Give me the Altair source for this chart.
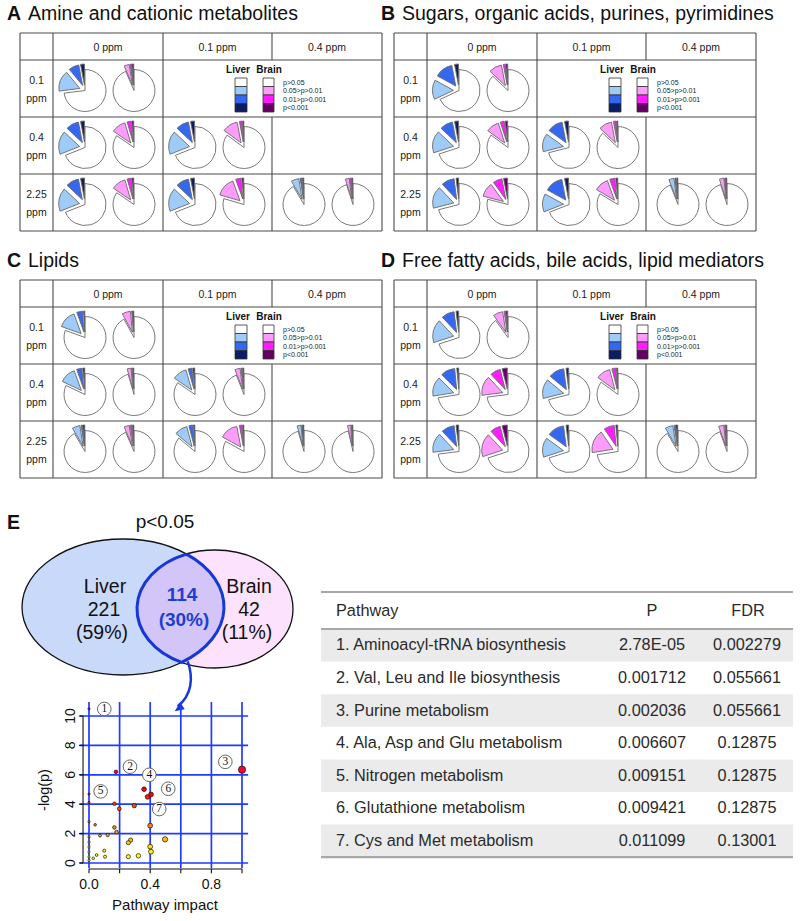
import math
import numpy as np
import pandas as pd
import altair as alt

# ------------------------------------------------------------------ data
panel_letters = ["A", "B", "C", "D"]
panel_titles = ["Amine and cationic metabolites",
                "Sugars, organic acids, purines, pyrimidines",
                "Lipids",
                "Free fatty acids, bile acids, lipid mediators"]
col_labels = ["0 ppm", "0.1 ppm", "0.4 ppm"]
row_labels = ["0.1", "0.4", "2.25"]
# comparisons: exposure row index vs reference column index
comp_rows = [0, 1, 1, 2, 2, 2]
comp_cols = [0, 0, 1, 0, 1, 2]
sig_levels = ["p>0.05", "0.05>p>0.01", "0.01>p>0.001", "p<0.001"]
liver_colors = ["#ffffff", "#9ecbf8", "#3468f0", "#0b1e63"]
brain_colors = ["#ffffff", "#fd9cfd", "#ff1cff", "#640064"]

# fraction of metabolites per comparison: [p<0.001, 0.01>p>0.001, 0.05>p>0.01]
liver_A = [[0.03, 0.08, 0.16], [0.03, 0.10, 0.18], [0.03, 0.10, 0.18],
           [0.03, 0.10, 0.18], [0.03, 0.10, 0.18], [0.01, 0.015, 0.06]]
brain_A = [[0.015, 0.01, 0.04], [0.015, 0.03, 0.11], [0.01, 0.02, 0.12],
           [0.015, 0.03, 0.11], [0.015, 0.04, 0.15], [0.01, 0.01, 0.03]]
liver_B = [[0.03, 0.14, 0.15], [0.03, 0.10, 0.17], [0.03, 0.12, 0.14],
           [0.02, 0.10, 0.17], [0.03, 0.14, 0.14], [0.01, 0.01, 0.04]]
brain_B = [[0.015, 0.015, 0.10], [0.02, 0.03, 0.10], [0.01, 0.02, 0.10],
           [0.03, 0.07, 0.11], [0.015, 0.04, 0.11], [0.01, 0.005, 0.035]]
liver_C = [[0.01, 0.045, 0.14], [0.015, 0.04, 0.125], [0.015, 0.03, 0.11],
           [0.015, 0.01, 0.06], [0.01, 0.03, 0.10], [0.01, 0.005, 0.03]]
brain_C = [[0.01, 0.005, 0.065], [0.01, 0.005, 0.03], [0.01, 0.01, 0.04],
           [0.01, 0.015, 0.04], [0.01, 0.02, 0.14], [0.008, 0.003, 0.025]]
liver_D = [[0.02, 0.10, 0.18], [0.015, 0.11, 0.15], [0.02, 0.12, 0.15],
           [0.02, 0.10, 0.15], [0.02, 0.13, 0.15], [0.015, 0.01, 0.06]]
brain_D = [[0.015, 0.01, 0.075], [0.04, 0.08, 0.15], [0.01, 0.03, 0.11],
           [0.04, 0.08, 0.18], [0.015, 0.08, 0.18], [0.01, 0.005, 0.04]]

# Venn
venn_title = "p<0.05"
venn_names = ["Liver", "Brain"]
venn_only = ["221", "42"]
venn_only_pct = ["(59%)", "(11%)"]
venn_shared = "114"
venn_shared_pct = "(30%)"

# pathway scatter: impact, -log(p)
path_impact = [0.0, 0.176, 1.0, 0.36, 0.0, 0.405, 0.383, 0.0, 0.166, 0.198, 0.296,
               0.0, 0.04, 0.40, 0.166, 0.18, 0.072, 0.122, 0.497, 0.272, 0.257,
               0.40, 0.405, 0.10, 0.105, 0.257, 0.323, 0.05, 0.028,
               0.0, 0.0, 0.0, 0.0, 0.0, 0.0]
path_nlogp = [10.49, 6.2, 6.35, 5.02, 4.69, 4.66, 4.50, 4.12, 4.03, 3.69, 3.9,
              2.81, 2.6, 2.54, 2.42, 2.1, 1.86, 1.9, 1.61, 1.56, 1.38,
              1.11, 0.77, 0.84, 0.43, 0.43, 0.49, 0.54, 0.32,
              1.77, 1.43, 1.09, 0.75, 0.41, 0.18]
label_num = ["1", "2", "3", "4", "5", "6", "7"]
label_x = [0.10, 0.268, 0.891, 0.394, 0.076, 0.518, 0.459]
label_y = [10.48, 6.55, 6.88, 6.0, 4.87, 5.05, 3.67]
x_ticks = [0.0, 0.2, 0.4, 0.6, 0.8, 1.0]
x_tick_labels = ["0.0", "0.4", "0.8"]
y_ticks = [0, 2, 4, 6, 8, 10]

# pathway table
tbl_header = ["Pathway", "P", "FDR"]
tbl_pathway = ["1. Aminoacyl-tRNA biosynthesis", "2. Val, Leu and Ile biosynthesis",
               "3. Purine metabolism", "4. Ala, Asp and Glu metabolism",
               "5. Nitrogen metabolism", "6. Glutathione metabolism",
               "7. Cys and Met metabolism"]
tbl_p = ["2.78E-05", "0.001712", "0.002036", "0.006607", "0.009151", "0.009421", "0.011099"]
tbl_fdr = ["0.002279", "0.055661", "0.055661", "0.12875", "0.12875", "0.12875", "0.13001"]

# ------------------------------------------------------------------ layout
W, H = 800, 921
FONT = "Liberation Sans"
panel_x = [20, 394, 20, 394]
panel_y = [33, 33, 280, 280]
col_edges = [0, 33, 143, 252, 362]
row_edges = [0, 27, 84, 141, 198]
LIVER_DX, BRAIN_DX, PIE_DY, PIE_R, EXPLODE = 32, 81, 2, 21, 5.5

SX = alt.Scale(domain=[0, W], range=[0, W], nice=False, zero=False)
SY = alt.Scale(domain=[0, H], range=[0, H], nice=False, zero=False)


def X(f):
    return alt.X(f, type="quantitative", scale=SX, axis=None)


def Y(f):
    return alt.Y(f, type="quantitative", scale=SY, axis=None)


def text_layer(df, **kw):
    props = dict(font=FONT, baseline="middle", color="#111111")
    props.update(kw)
    return alt.Chart(df).mark_text(**props).encode(x=X("x"), y=Y("y"), text="t:N")


def rules(df, **kw):
    return alt.Chart(df).mark_rule(**kw).encode(x=X("x"), y=Y("y"), x2="x2", y2="y2")


# ---------------- panels A-D ----------------
pie_recs, line_recs = [], []
letters, titles, heads, rlabs = [], [], [], []
leg_head, leg_box, leg_lab = [], [], []
panels = [(liver_A, brain_A), (liver_B, brain_B), (liver_C, brain_C), (liver_D, brain_D)]
for p, (lv, br) in enumerate(panels):
    x0, y0 = panel_x[p], panel_y[p]
    letters.append(dict(x=x0 - 13, y=y0 - 19, t=panel_letters[p]))
    titles.append(dict(x=x0 + 8, y=y0 - 19, t=panel_titles[p]))
    # grid lines
    for ry in row_edges:
        line_recs.append(dict(x=x0, x2=x0 + col_edges[-1], y=y0 + ry, y2=y0 + ry))
    for ci in (0, 1, 2, 4):
        line_recs.append(dict(x=x0 + col_edges[ci], x2=x0 + col_edges[ci],
                              y=y0, y2=y0 + row_edges[-1]))
    line_recs.append(dict(x=x0 + col_edges[3], x2=x0 + col_edges[3], y=y0, y2=y0 + row_edges[1]))
    line_recs.append(dict(x=x0 + col_edges[3], x2=x0 + col_edges[3], y=y0 + row_edges[2], y2=y0 + row_edges[-1]))
    for c, lab in enumerate(col_labels):
        heads.append(dict(x=x0 + (col_edges[c + 1] + col_edges[c + 2]) / 2,
                          y=y0 + row_edges[1] / 2 + 1, t=lab))
    for r, lab in enumerate(row_labels):
        cyr = y0 + (row_edges[r + 1] + row_edges[r + 2]) / 2
        rlabs.append(dict(x=x0 + col_edges[1] / 2, y=cyr - 8, t=lab))
        rlabs.append(dict(x=x0 + col_edges[1] / 2, y=cyr + 10, t="ppm"))
    # legend
    leg_head.append(dict(x=x0 + 218, y=y0 + 37, t="Liver"))
    leg_head.append(dict(x=x0 + 249, y=y0 + 37, t="Brain"))
    for i, lvl in enumerate(sig_levels):
        ty = y0 + 45 + 8.5 * i
        leg_box.append(dict(x=x0 + 215, x2=x0 + 227, y=ty, y2=ty + 8.5, col=liver_colors[i]))
        leg_box.append(dict(x=x0 + 243, x2=x0 + 254, y=ty, y2=ty + 8.5, col=brain_colors[i]))
        leg_lab.append(dict(x=x0 + 263, y=ty + 4.6, t=lvl))
    # pies
    for k in range(len(comp_rows)):
        r, c = comp_rows[k], comp_cols[k]
        left = x0 + col_edges[c + 1]
        cy = y0 + (row_edges[r + 1] + row_edges[r + 2]) / 2 + PIE_DY
        for fr, pal, off in ((lv[k], liver_colors, LIVER_DX), (br[k], brain_colors, BRAIN_DX)):
            cx = left + off
            tot = sum(fr)
            pie_recs.append(dict(x=cx, y=cy, t0=0.0, t1=2 * math.pi * (1 - tot), col=pal[0]))
            cum = 0.0
            for j, f in enumerate(fr):
                a0, a1 = 2 * math.pi * cum, 2 * math.pi * (cum + f)
                cum += f
                m = (a0 + a1) / 2
                pie_recs.append(dict(x=cx - EXPLODE * math.sin(m), y=cy - EXPLODE * math.cos(m),
                                     t0=2 * math.pi - a1, t1=2 * math.pi - a0, col=pal[3 - j]))

pies = alt.Chart(pd.DataFrame(pie_recs)).mark_arc(
    outerRadius=PIE_R, stroke="#6a6a6a", strokeWidth=0.9).encode(
    x=X("x"), y=Y("y"),
    theta=alt.Theta("t0:Q", scale=None, stack=None), theta2="t1:Q",
    color=alt.Color("col:N", scale=None))

grid_lines = rules(pd.DataFrame(line_recs), color="#4a4a4a", strokeWidth=1.1)
legend_boxes = alt.Chart(pd.DataFrame(leg_box)).mark_rect(stroke="#333333", strokeWidth=0.8).encode(
    x=X("x"), x2="x2", y=Y("y"), y2="y2", color=alt.Color("col:N", scale=None))

# ---------------- panel E: Venn ----------------
LV_CX, LV_CY, LV_RX, LV_RY = 123, 607, 101, 68
BR_CX, BR_CY, BR_RX, BR_RY = 215, 609, 78, 59
K = 0.5523


def ellipse_path(rx, ry):
    return (f"M {-rx} 0 C {-rx} {-K*ry:.2f} {-K*rx:.2f} {-ry} 0 {-ry} "
            f"C {K*rx:.2f} {-ry} {rx} {-K*ry:.2f} {rx} 0 "
            f"C {rx} {K*ry:.2f} {K*rx:.2f} {ry} 0 {ry} "
            f"C {-K*rx:.2f} {ry} {-rx} {K*ry:.2f} {-rx} 0 Z")


tt = np.linspace(0, 2 * np.pi, 20001)
bx = BR_CX + BR_RX * np.cos(tt)
by = BR_CY + BR_RY * np.sin(tt)
ff = ((bx - LV_CX) / LV_RX) ** 2 + ((by - LV_CY) / LV_RY) ** 2 - 1
idx = np.where(np.sign(ff[:-1]) != np.sign(ff[1:]))[0]
pts = sorted([(float(by[i]), float(bx[i])) for i in idx])
(p1y, p1x), (p2y, p2x) = pts[0], pts[-1]
lens_path = (f"M 0 0 A {BR_RX} {BR_RY} 0 0 0 {p2x-p1x:.2f} {p2y-p1y:.2f} "
             f"A {LV_RX} {LV_RY} 0 0 0 0 0")

liver_ell = alt.Chart(pd.DataFrame([dict(x=LV_CX, y=LV_CY)])).mark_point(
    shape=ellipse_path(LV_RX, LV_RY), size=4, filled=True, color="#c9d9fa",
    stroke="#111111", strokeWidth=1.3, opacity=1).encode(x=X("x"), y=Y("y"))
brain_ell = alt.Chart(pd.DataFrame([dict(x=BR_CX, y=BR_CY)])).mark_point(
    shape=ellipse_path(BR_RX, BR_RY), size=4, filled=True, color="#f78bf7",
    fillOpacity=0.25, stroke="#111111", strokeOpacity=1, strokeWidth=1.3, opacity=1).encode(
    x=X("x"), y=Y("y"))
lens = alt.Chart(pd.DataFrame([dict(x=p1x, y=p1y)])).mark_point(
    shape=lens_path, size=4, filled=False, stroke="#1538d6", strokeWidth=3, opacity=1).encode(
    x=X("x"), y=Y("y"))
arrow = alt.Chart(pd.DataFrame([dict(x=p2x + 6, y=p2y - 1)])).mark_point(
    shape="M 0 0 C 6 17 4 34 -10 45", size=4, filled=False, stroke="#1538d6",
    strokeWidth=2.5, opacity=1).encode(x=X("x"), y=Y("y"))
arrow_head = alt.Chart(pd.DataFrame([dict(x=p2x - 7, y=p2y + 49)])).mark_point(
    shape="M 0 0 L 10 -2 L 5.5 -9 Z", size=4, filled=True, color="#1538d6",
    strokeWidth=0, opacity=1).encode(x=X("x"), y=Y("y"))

venn_txt = text_layer(pd.DataFrame([
    dict(x=105, y=587, t=venn_names[0]), dict(x=104, y=610, t=venn_only[0]),
    dict(x=102, y=633, t=venn_only_pct[0]),
    dict(x=249, y=587, t=venn_names[1]), dict(x=249, y=610, t=venn_only[1]),
    dict(x=247, y=633, t=venn_only_pct[1])]), fontSize=19.5, align="center")
venn_mid = text_layer(pd.DataFrame([dict(x=182, y=595, t=venn_shared),
                                    dict(x=184, y=620, t=venn_shared_pct)]),
                      fontSize=19, fontWeight="bold", align="center", color="#1d3fd0")

# ---------------- panel E: table ----------------
TB_L, TB_R, TB_TOP, TB_HEAD, ROW_H = 321, 793, 592, 629, 32.6
shade = pd.DataFrame([dict(x=TB_L, x2=TB_R, y=TB_HEAD + ROW_H * i, y2=TB_HEAD + ROW_H * (i + 1))
                      for i in range(len(tbl_pathway)) if i % 2 == 0])
tbl_shade = alt.Chart(shade).mark_rect(color="#ebebeb").encode(x=X("x"), x2="x2", y=Y("y"), y2="y2")
tbl_lines = rules(pd.DataFrame([
    dict(x=TB_L, x2=TB_R, y=TB_TOP, y2=TB_TOP),
    dict(x=TB_L, x2=TB_R, y=TB_HEAD, y2=TB_HEAD),
    dict(x=TB_L, x2=TB_R, y=TB_HEAD + ROW_H * len(tbl_pathway), y2=TB_HEAD + ROW_H * len(tbl_pathway))]),
    color="#a8a8a8", strokeWidth=2.2)
rows_y = [TB_HEAD + ROW_H * (i + 0.5) for i in range(len(tbl_pathway))]
tbl_left = text_layer(pd.DataFrame(
    [dict(x=336, y=611, t=tbl_header[0])] +
    [dict(x=336, y=rows_y[i], t=tbl_pathway[i]) for i in range(len(tbl_pathway))]),
    fontSize=16.3, align="left", color="#2a2a2a")
tbl_num = text_layer(pd.DataFrame(
    [dict(x=652, y=611, t=tbl_header[1]), dict(x=748, y=611, t=tbl_header[2])] +
    [dict(x=652, y=rows_y[i], t=tbl_p[i]) for i in range(len(tbl_p))] +
    [dict(x=747, y=rows_y[i], t=tbl_fdr[i]) for i in range(len(tbl_fdr))]),
    fontSize=16.3, align="center", color="#2a2a2a")

# ---------------- text of panels ----------------
letters.append(dict(x=7, y=523, t="E"))
t_letters = text_layer(pd.DataFrame(letters), fontSize=19.5, fontWeight="bold", align="left")
t_titles = text_layer(pd.DataFrame(titles), fontSize=19.5, align="left")
t_heads = text_layer(pd.DataFrame(heads), fontSize=10.5, align="center", color="#222222")
t_rlabs = text_layer(pd.DataFrame(rlabs), fontSize=10.5, align="center", color="#222222")
t_leghead = text_layer(pd.DataFrame(leg_head), fontSize=10, fontWeight="bold", align="center")
t_leglab = text_layer(pd.DataFrame(leg_lab), fontSize=7, align="left", color="#222222")
t_venn_title = text_layer(pd.DataFrame([dict(x=165, y=522, t=venn_title)]), fontSize=19, align="center")
t_axis_titles = alt.layer(
    text_layer(pd.DataFrame([dict(x=165, y=905, t="Pathway impact")]), fontSize=15, align="center"),
    text_layer(pd.DataFrame([dict(x=45, y=790, t="-log(p)")]), fontSize=14.5, align="center", angle=270),
)

canvas = alt.layer(
    grid_lines, pies, legend_boxes, t_letters, t_titles, t_heads, t_rlabs, t_leghead, t_leglab,
    liver_ell, brain_ell, lens, arrow, arrow_head, venn_txt, venn_mid, t_venn_title,
    tbl_shade, tbl_lines, tbl_left, tbl_num, t_axis_titles)

# ---------------- scatter (own scales) ----------------
SX2 = alt.Scale(domain=[0, 1], range=[89, 242], nice=False, zero=False)
SY2 = alt.Scale(domain=[0, 10], range=[863, 716], nice=False, zero=False)


def X2s(f):
    return alt.X(f, type="quantitative", scale=SX2, axis=None)


def Y2s(f):
    return alt.Y(f, type="quantitative", scale=SY2, axis=None)


def srules(df, **kw):
    return alt.Chart(df).mark_rule(**kw).encode(x=X2s("x"), y=Y2s("y"), x2="x2", y2="y2")


def stext(df, **kw):
    props = dict(font=FONT, baseline="middle", color="#111111")
    props.update(kw)
    return alt.Chart(df).mark_text(**props).encode(x=X2s("x"), y=Y2s("y"), text="t:N")


blue_grid = srules(pd.DataFrame(
    [dict(x=-0.06, x2=1.04, y=v, y2=v) for v in y_ticks] +
    [dict(x=v, x2=v, y=-0.35, y2=10.95) for v in x_ticks]), color="#1f3bff", strokeWidth=1.7)
axes = srules(pd.DataFrame(
    [dict(x=-0.039, x2=-0.039, y=0, y2=10), dict(x=0, x2=1.0, y=-0.41, y2=-0.41)] +
    [dict(x=-0.039, x2=-0.066, y=v, y2=v) for v in y_ticks] +
    [dict(x=v, x2=v, y=-0.41, y2=-0.7) for v in x_ticks]), color="#111111", strokeWidth=1.1)
ylabs = stext(pd.DataFrame([dict(x=-0.118, y=v, t=str(v)) for v in y_ticks]),
              fontSize=14, align="center", angle=270)
xlabs = stext(pd.DataFrame([dict(x=float(s), y=-1.5, t=s) for s in x_tick_labels]),
              fontSize=14, align="center")
pts_df = pd.DataFrame(dict(imp=path_impact, nlp=path_nlogp))
points = alt.Chart(pts_df).mark_point(filled=True, stroke="#111111", strokeWidth=0.7, opacity=1).encode(
    x=X2s("imp"), y=Y2s("nlp"),
    size=alt.Size("imp:Q", scale=alt.Scale(domain=[0, 1], range=[5, 52]), legend=None),
    color=alt.Color("nlp:Q", scale=alt.Scale(domain=[0.5, 1.2, 1.8, 2.6, 4.0, 4.6],
                                             range=["#ffff00", "#ffdd00", "#ffaa00", "#ff7a00",
                                                    "#ee4400", "#ff0000"]), legend=None))
lab_df = pd.DataFrame(dict(x=label_x, y=label_y, t=label_num))
lab_circles = alt.Chart(lab_df).mark_point(shape="circle", size=185, filled=True, color="#ffffff",
                                           stroke="#666666", strokeWidth=1, opacity=1).encode(
    x=X2s("x"), y=Y2s("y"))
lab_text = stext(lab_df, fontSize=11.5, align="center", font="Liberation Serif")

scatter = alt.layer(blue_grid, axes, ylabs, xlabs, points, lab_circles, lab_text)

chart = alt.layer(canvas, scatter).resolve_scale(
    x="independent", y="independent", color="independent", size="independent"
).properties(width=W, height=H, padding=0, autosize="none").configure_view(stroke=None)

chart.save("out.html", embed_options={"renderer": "svg", "actions": False})
